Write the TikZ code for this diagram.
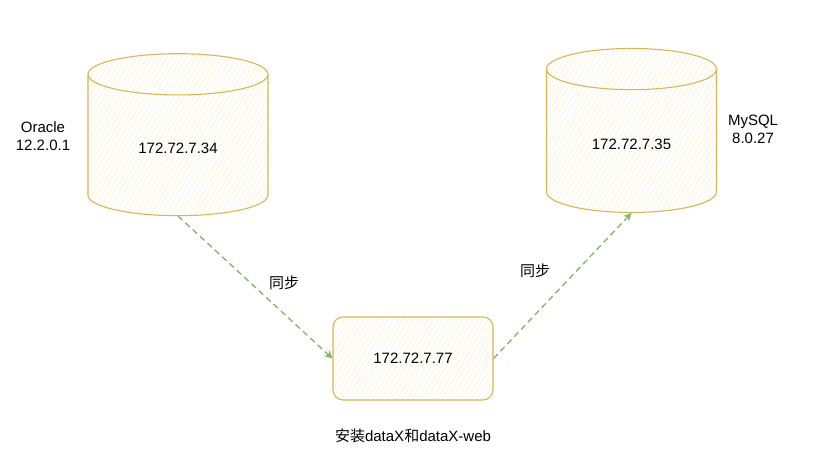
\documentclass[tikz,border=0pt]{standalone}
\usepackage{fontspec}
\setmainfont{Liberation Sans}
\newfontfamily\cjkfont{Noto Sans CJK SC}
\usetikzlibrary{shapes.geometric,positioning,arrows.meta,patterns.meta}
\definecolor{dbyellow}{RGB}{214,182,86}
\definecolor{dbhatch}{RGB}{247,228,168}
\definecolor{syncgreen}{RGB}{130,179,102}

\begin{document}
\begin{tikzpicture}[x=1pt,y=-1pt,font=\fontsize{15}{18}\selectfont]
    \tikzstyle{database} = [cylinder, shape border rotate=90, aspect=0.48, draw=dbyellow, line width=1.1pt, minimum width=180pt, minimum height=162pt, anchor=south, pattern={Lines[angle=60,distance=4pt,line width=0.6pt]}, pattern color=dbhatch]
    \tikzstyle{server} = [rectangle, rounded corners=10pt, draw=dbyellow, line width=1.1pt, minimum width=160pt, minimum height=83pt, pattern={Lines[angle=60,distance=4pt,line width=0.6pt]}, pattern color=dbhatch]
    \tikzstyle{version} = [align=center, inner sep=0pt]
    \tikzstyle{sync} = [draw=syncgreen, line width=1.3pt, dash pattern=on 6pt off 4pt, -{Stealth[open,length=8pt,width=8pt]}]

    \useasboundingbox (0,0) rectangle (834,466);

    \node[database] (oracle) at (178,216) {172.72.7.34};
    \node[database, minimum width=170pt, minimum height=164pt] (mysql) at (631.5,213) {172.72.7.35};
    \node[server] (datax) at (413,358.5) {172.72.7.77};

    \node[version] (oraclever) at (43,136.5) {Oracle\\12.2.0.1};
    \node[version] (mysqlver) at (753,129.5) {MySQL\\8.0.27};
    \node[below=25pt of datax] (install) {{\cjkfont 安装}dataX{\cjkfont 和}dataX-web};

    \draw[sync] (oracle.south) -- (datax.west);
    \draw[sync] (datax.east) -- (mysql.south);

    \node (sync1) at (284,283) {\cjkfont 同步};
    \node (sync2) at (535,271) {\cjkfont 同步};
\end{tikzpicture}
\end{document}
